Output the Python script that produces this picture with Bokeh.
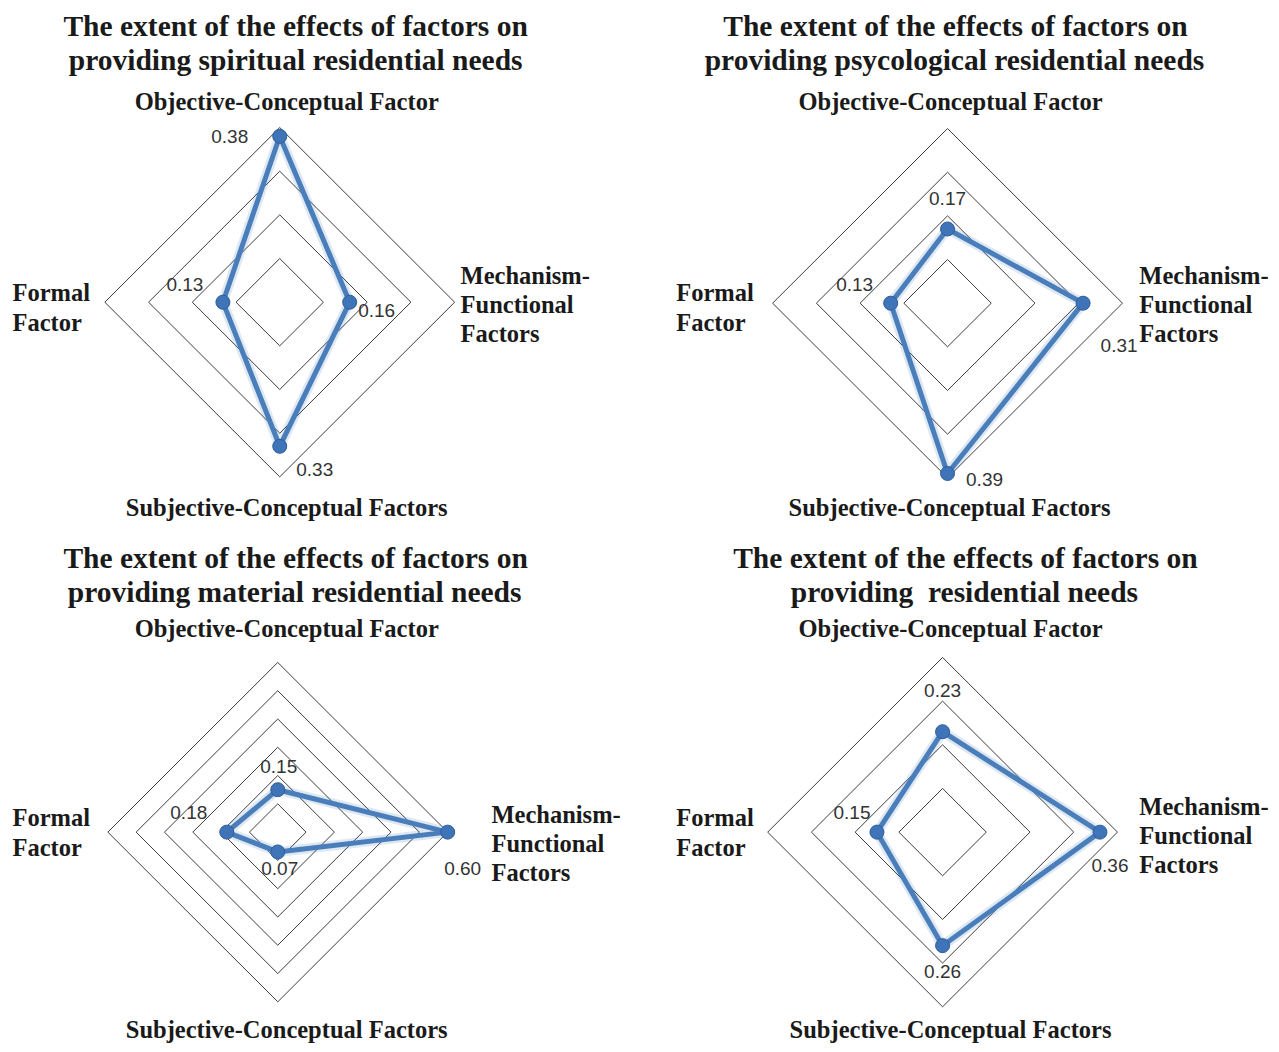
import math
from bokeh.plotting import figure
from bokeh.models import Range1d, ColumnDataSource
from bokeh.core.properties import value
from bokeh.embed import file_html
from bokeh.resources import INLINE

# ---------------- data ----------------
categories = ["Objective-Conceptual Factor", "Mechanism-Functional Factors",
              "Subjective-Conceptual Factors", "Formal Factor"]
category_angles = [90, 0, -90, 180]          # direction of each category axis (degrees)

spiritual = [0.38, 0.16, 0.33, 0.13]
psychological = [0.17, 0.31, 0.39, 0.13]
material = [0.15, 0.60, 0.07, 0.18]
overall = [0.23, 0.36, 0.26, 0.15]

title_lines = [
    ["The extent of the effects of factors on", "providing spiritual residential needs"],
    ["The extent of the effects of factors on", "providing psycological residential needs"],
    ["The extent of the effects of factors on", "providing material residential needs"],
    ["The extent of the effects of factors on", "providing \u00a0residential needs"],
]
rings_a = [0.1, 0.2, 0.3, 0.4]
rings_b = [0.1, 0.2, 0.3, 0.4, 0.5, 0.6]

series = [spiritual, psychological, material, overall]
ring_sets = [rings_a, rings_a, rings_b, rings_a]

# ---------------- layout / style ----------------
FW, FH = 1271, 1044          # figure size in px (fits window with 8px margin)
RW, RH = 1279, 1052          # layout reference extent the figure spans
SERIF = value("Liberation Serif")
SANS = value("Liberation Sans")
LINE_C = "#4a7ebb"
GRID_C = "#3c3c3c"
TXT_C = "#1a1a1a"

# per chart: centre (layout px), outer radius px, label offsets (px, screen y down),
# text anchor points (vertical middle of the text)
charts = [
    dict(c=(281, 304), r=176,
         off=[(-50, 0), (27, 8), (35, 23), (-38, -18)],
         title=[(297, 26), (297, 60)], obj=(288, 102), sub=(288, 511),
         formal=(12, [294, 324]), mech=(463, [277.5, 306.5, 335.5])),
    dict(c=(953, 305), r=176,
         off=[(0, -30), (36, 42), (37, 6), (-36, -19)],
         title=[(961, 26), (960, 60)], obj=(956, 102), sub=(955, 511),
         formal=(680, [294, 324]), mech=(1146, [277.5, 306.5, 335.5])),
    dict(c=(279, 838), r=171,
         off=[(1, -23), (15, 36), (2, 17), (-38, -20)],
         title=[(297, 562), (296, 596)], obj=(288, 633), sub=(288, 1037),
         formal=(12, [823.5, 853.5]), mech=(494, [820.5, 849.5, 878.5])),
    dict(c=(948, 838), r=176,
         off=[(0, -41), (10, 33), (0, 26), (-25, -20)],
         title=[(971, 562), (970, 596)], obj=(956, 633), sub=(956, 1037),
         formal=(680, [823.5, 853.5]), mech=(1146, [812.5, 841.5, 870.5])),
]

p = figure(width=FW, height=FH, output_backend="svg", toolbar_location=None,
           x_axis_type=None, y_axis_type=None, min_border=0,
           x_range=Range1d(0, 1), y_range=Range1d(0, 1))
p.outline_line_color = None
p.grid.visible = False
p.background_fill_color = "white"
p.border_fill_color = "white"


def add_text(xr, yr, x, y, s, size, align, font=SERIF, style="bold", color=TXT_C):
    p.text([x], [y], text=[s], text_font=font, text_font_style=style,
           text_font_size=size, text_color=color, text_align=align,
           text_baseline="middle", x_range_name=xr, y_range_name=yr)


for i, (vals, rings, cfg) in enumerate(zip(series, ring_sets, charts)):
    cx, cy = cfg["c"]
    r = cfg["r"]
    vmax = max(rings)
    k = vmax / r
    xr, yr = f"x{i}", f"y{i}"
    p.extra_x_ranges[xr] = Range1d((0 - cx) * k, (RW - cx) * k)
    p.extra_y_ranges[yr] = Range1d((cy - RH) * k, cy * k)

    def D(px, py):
        return (px - cx) * k, (cy - py) * k

    # grid rings (diamonds)
    gxs, gys = [], []
    for rv in rings:
        gxs.append([round(rv * math.cos(math.radians(a)), 10) for a in category_angles + category_angles[:1]])
        gys.append([round(rv * math.sin(math.radians(a)), 10) for a in category_angles + category_angles[:1]])
    p.multi_line(gxs, gys, line_color=GRID_C, line_width=1,
                 x_range_name=xr, y_range_name=yr)

    # series
    xs = [round(v * math.cos(math.radians(a)), 10) for v, a in zip(vals, category_angles)]
    ys = [round(v * math.sin(math.radians(a)), 10) for v, a in zip(vals, category_angles)]
    p.line(xs + xs[:1], ys + ys[:1], line_color=LINE_C, line_width=10, line_alpha=0.18,
           line_join="round", x_range_name=xr, y_range_name=yr)
    p.line(xs + xs[:1], ys + ys[:1], line_color=LINE_C, line_width=5,
           line_join="round", x_range_name=xr, y_range_name=yr)
    p.scatter(xs, ys, size=14, fill_color="#3f74b9", line_color="#2f5d99", line_width=1,
              x_range_name=xr, y_range_name=yr)

    src = ColumnDataSource(dict(x=xs, y=ys, t=[f"{v:.2f}" for v in vals],
                                dx=[o[0] for o in cfg["off"]], dy=[o[1] for o in cfg["off"]]))
    p.text("x", "y", text="t", x_offset="dx", y_offset="dy", source=src,
           text_font=SANS, text_font_size="19px", text_color="#333333",
           text_align="center", text_baseline="middle",
           x_range_name=xr, y_range_name=yr)

    # titles
    for (tx, ty), line in zip(cfg["title"], title_lines[i]):
        add_text(xr, yr, *D(tx, ty), line, "29.5px", "center")

    # category labels
    add_text(xr, yr, *D(*cfg["obj"]), categories[0], "24.5px", "center")
    add_text(xr, yr, *D(*cfg["sub"]), categories[2], "24.5px", "center")
    fx, fys = cfg["formal"]
    for line, fy in zip(["Formal", "Factor"], fys):
        add_text(xr, yr, *D(fx, fy), line, "24.5px", "left")
    mx, mys = cfg["mech"]
    for line, my in zip(["Mechanism-", "Functional", "Factors"], mys):
        add_text(xr, yr, *D(mx, my), line, "24.5px", "left")

open("out.html", "w").write(file_html(p, INLINE))
